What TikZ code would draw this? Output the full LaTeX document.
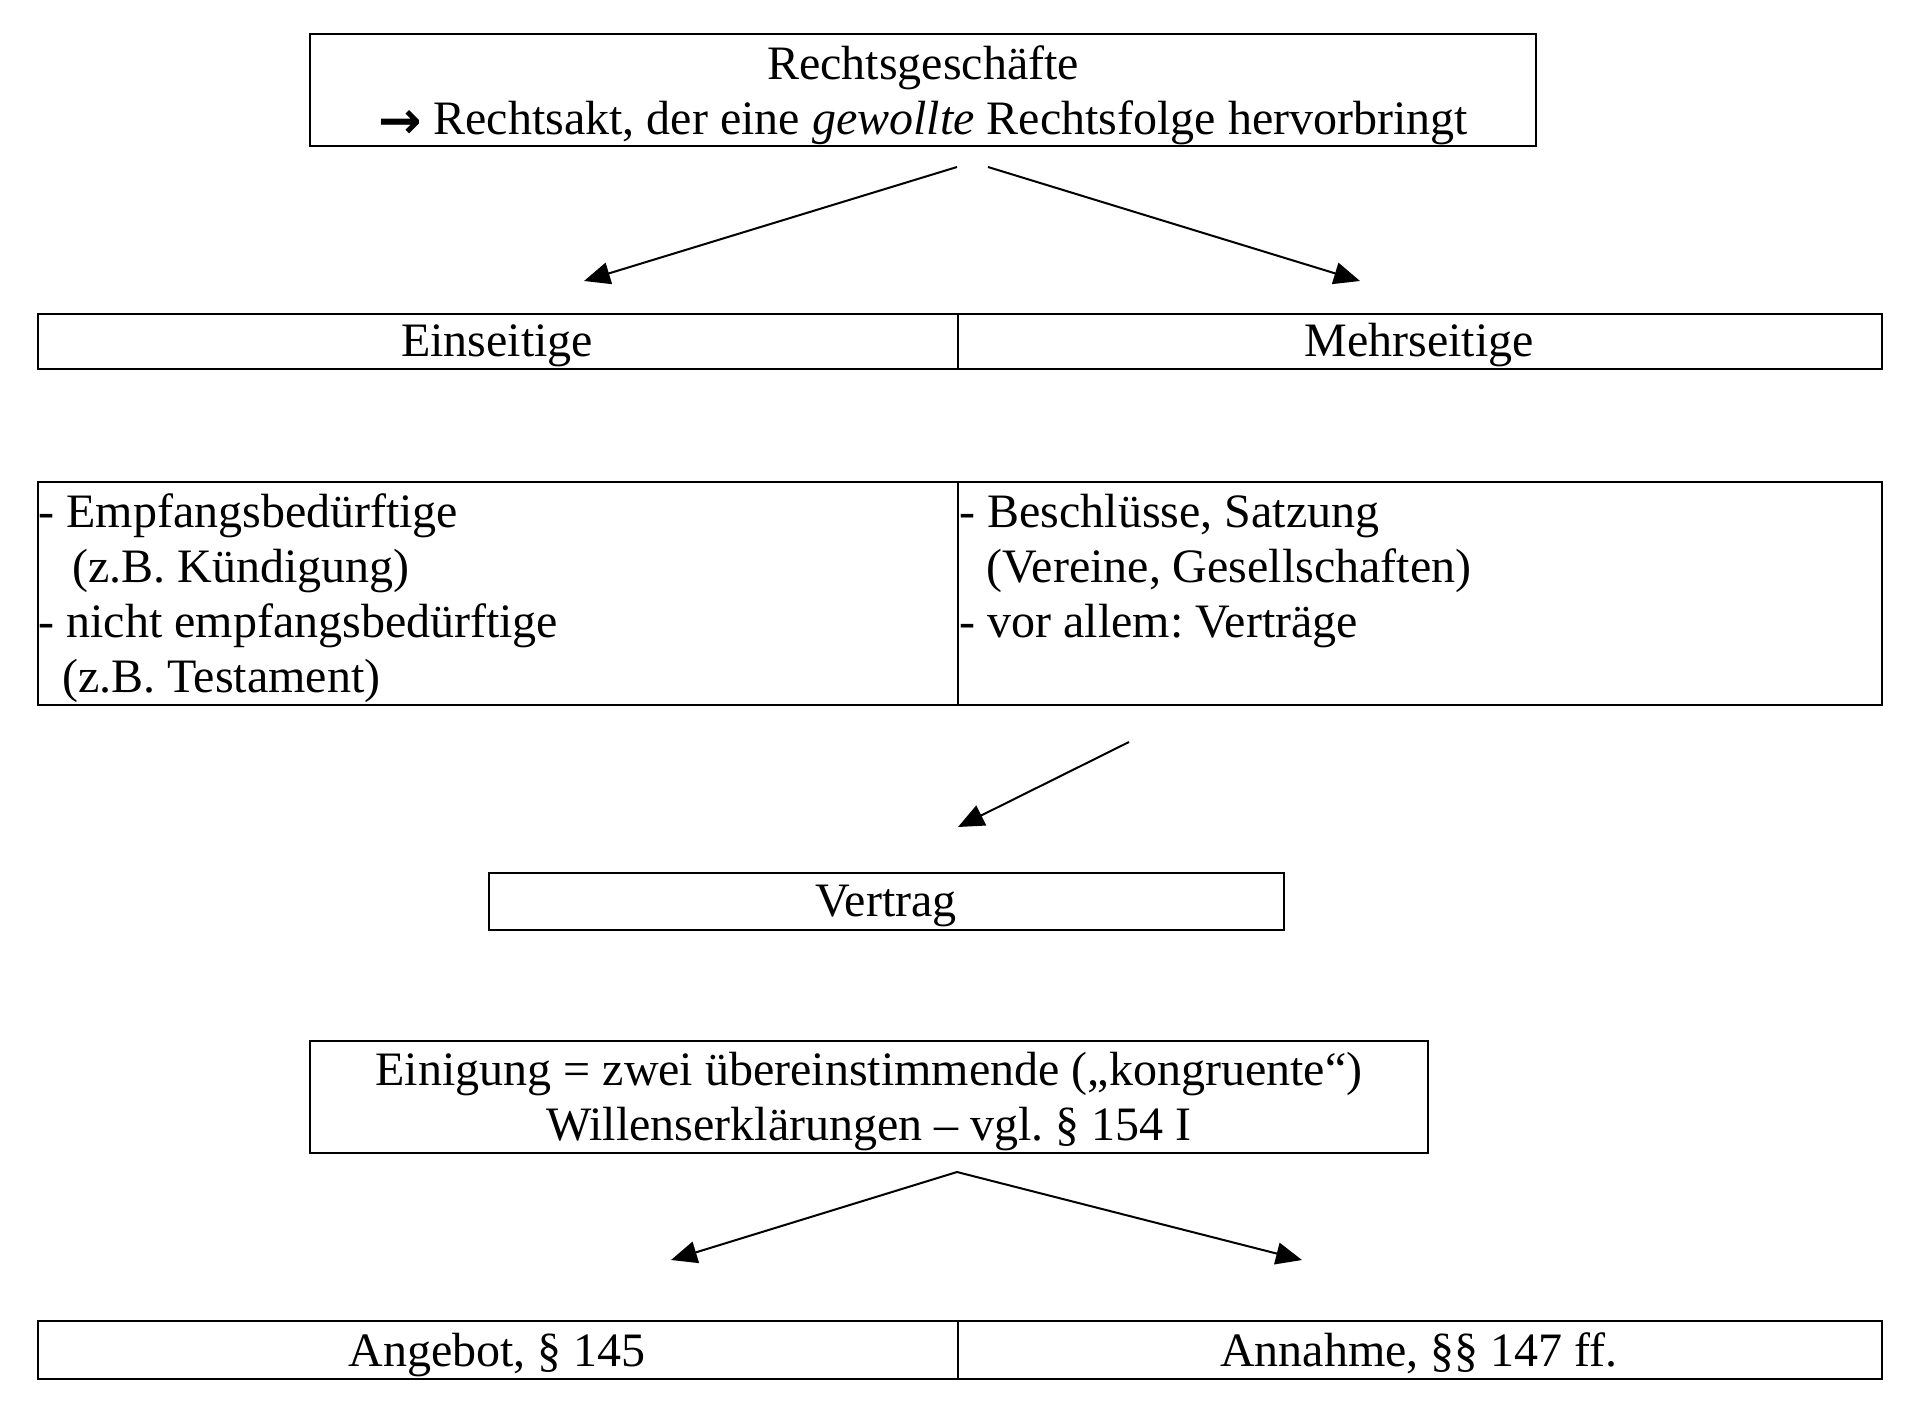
\documentclass[tikz,border=0pt]{standalone}
\usepackage{fontspec}
\setmainfont{Liberation Serif}
\newfontfamily\arrowfont{DejaVu Sans}
\frenchspacing
\usetikzlibrary{arrows.meta}
\begin{document}
\begin{tikzpicture}[x=0.5pt,y=-0.5pt,
  box/.style={draw,line width=1pt,inner sep=0pt,anchor=north west},
  txt/.style={inner sep=0pt,font=\fontsize{24}{27.5}\selectfont,anchor=base},
  txtl/.style={txt,anchor=base west},
  arr/.style={line width=1pt,-{Triangle[length=13pt,width=11pt]}}]
\useasboundingbox[fill=white] (0,0) rectangle (1924,1414);

% boxes
\node[box,minimum width=613pt,minimum height=56pt] (top) at (309,33) {};
\node[box,minimum width=460pt,minimum height=27.5pt] (ein) at (37,313) {};
\node[box,minimum width=462pt,minimum height=27.5pt] (mehr) at (957,313) {};
\node[box,minimum width=460pt,minimum height=111.5pt] (einl) at (37,481) {};
\node[box,minimum width=462pt,minimum height=111.5pt] (mehrl) at (957,481) {};
\node[box,minimum width=397.5pt,minimum height=28.5pt] (vertrag) at (488,872) {};
\node[box,minimum width=559pt,minimum height=56pt] (einig) at (309,1040) {};
\node[box,minimum width=460pt,minimum height=29pt] (ang) at (37,1320) {};
\node[box,minimum width=462pt,minimum height=29pt] (ann) at (957,1320) {};

% texts
\node[txt] (t1) at (923,79) {Rechtsgeschäfte};
\node[txt] (t2) at (923,134) {\raisebox{-2pt}{\arrowfont\bfseries\fontsize{26}{30}\selectfont →}\ Rechtsakt, der eine \textit{gewollte} Rechtsfolge hervorbringt};
\node[txt] (te) at (497,356) {Einseitige};
\node[txt] (tm) at (1419,356) {Mehrseitige};
\node[txtl] (l1) at (38,527) {- Empfangsbedürftige};
\node[txtl] (l2) at (38,582) {\hspace{17pt}(z.B. Kündigung)};
\node[txtl] (l3) at (38,637) {- nicht empfangsbedürftige};
\node[txtl] (l4) at (38,692) {\hspace{12pt}(z.B. Testament)};
\node[txtl] (r1) at (959,527) {- Beschlüsse, Satzung};
\node[txtl] (r2) at (959,582) {\hspace{13.5pt}(Vereine, Gesellschaften)};
\node[txtl] (r3) at (959,637) {- vor allem: Verträge};
\node[txt] (tv) at (886,916) {Vertrag};
\node[txt] (g1) at (869,1085) {Einigung = zwei übereinstimmende („kongruente“)};
\node[txt] (g2) at (869,1140) {Willenserklärungen – vgl. § 154 I};
\node[txt] (ta) at (497,1366) {Angebot, § 145};
\node[txt] (tn) at (1419,1366) {Annahme, §§ 147 ff.};

% arrow endpoints
\coordinate (a1s) at (957,167);
\coordinate (a1e) at (584,281);
\coordinate (a2s) at (988,167);
\coordinate (a2e) at (1360,281);
\coordinate (a3s) at (1129,742);
\coordinate (a3e) at (958,827);
\coordinate (a4s) at (957,1172);
\coordinate (a4e) at (671,1260);
\coordinate (a5e) at (1302,1260);

\draw[arr] (a1s) -- (a1e);
\draw[arr] (a2s) -- (a2e);
\draw[arr] (a3s) -- (a3e);
\draw[arr] (a4s) -- (a4e);
\draw[arr] (a4s) -- (a5e);
\end{tikzpicture}
\end{document}
